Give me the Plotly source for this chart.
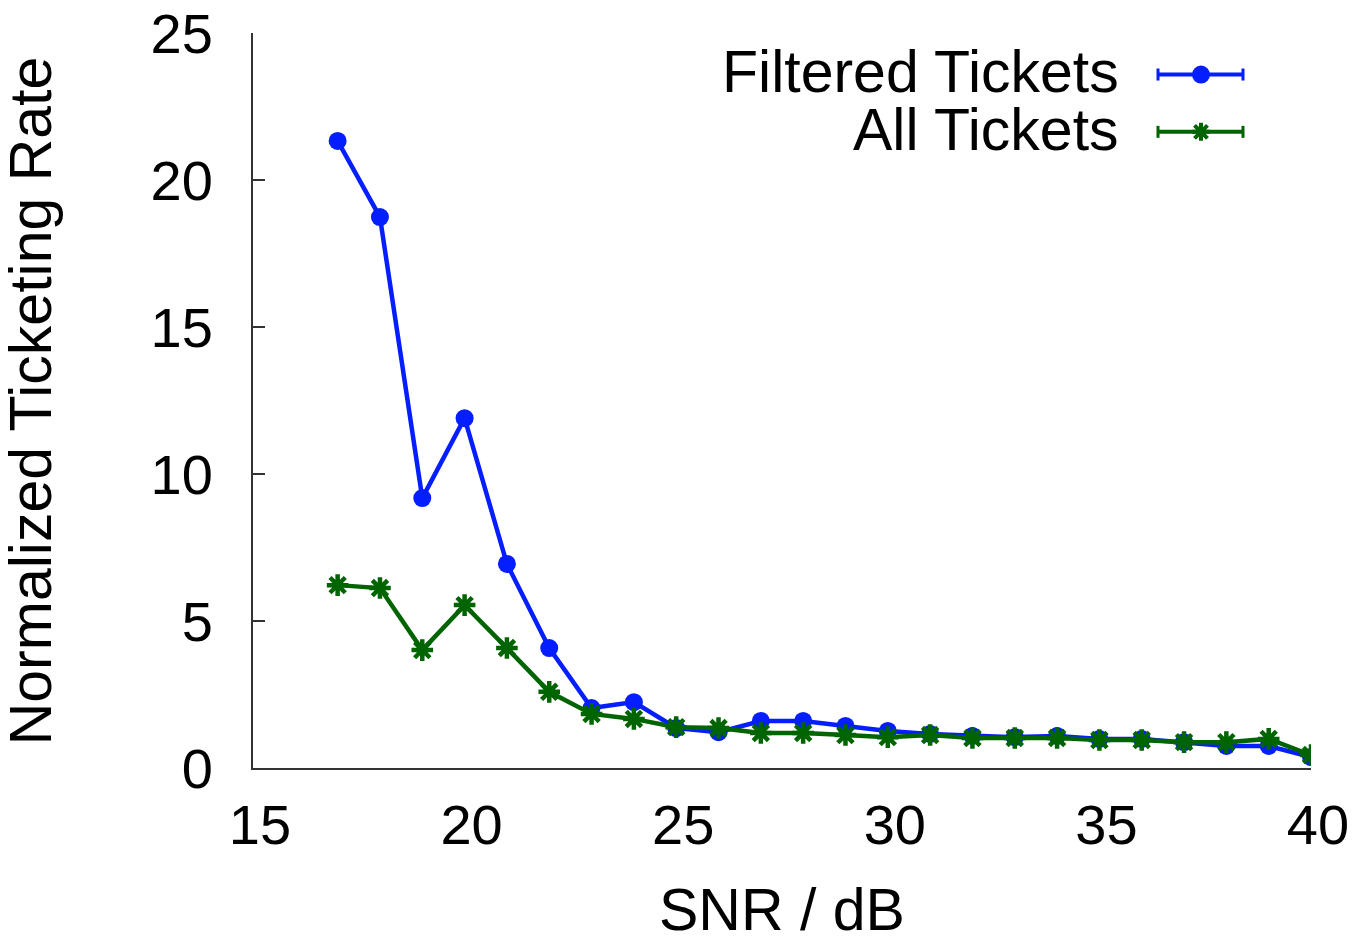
import plotly.graph_objects as go

snr = [17, 18, 19, 20, 21, 22, 23, 24, 25, 26, 27, 28, 29, 30, 31, 32, 33, 34, 35, 36, 37, 38, 39, 40]
filtered = [21.33, 18.74, 9.18, 11.9, 6.94, 4.08, 2.04, 2.24, 1.36, 1.22, 1.6, 1.6, 1.43, 1.26,
            1.16, 1.09, 1.05, 1.09, 0.99, 0.99, 0.88, 0.75, 0.75, 0.37]
all_tickets = [6.22, 6.12, 4.01, 5.54, 4.08, 2.59, 1.84, 1.67, 1.39, 1.36, 1.19, 1.19, 1.12, 1.05,
               1.12, 1.02, 1.02, 1.02, 0.95, 0.95, 0.88, 0.88, 0.99, 0.44]
series_names = ["Filtered Tickets", "All Tickets"]
x_title = "SNR / dB"
y_title = "Normalized Ticketing Rate"

BLUE = "rgb(5,30,255)"
GREEN = "rgb(0,100,0)"
FONT = "Liberation Sans, Arial, sans-serif"
FS = 56
FT = 59

fig = go.Figure()
fig.add_trace(go.Scatter(x=snr, y=filtered, mode="lines+markers", name=series_names[0],
                         line=dict(color=BLUE, width=4.5),
                         marker=dict(symbol="circle", size=18, color=BLUE), showlegend=False))
fig.add_trace(go.Scatter(x=snr, y=all_tickets, mode="lines+markers", name=series_names[1],
                         line=dict(color=GREEN, width=4.5),
                         marker=dict(symbol="asterisk-open", size=18, color=GREEN,
                                     line=dict(color=GREEN, width=4.5)), showlegend=False))

fig.update_layout(
    width=1344, height=925,
    margin=dict(l=245, r=41, t=25, b=165, autoexpand=False),
    paper_bgcolor="white", plot_bgcolor="white",
    font=dict(family=FONT, size=FS, color="black"),
    showlegend=False,
)
fig.update_xaxes(range=[15, 40], tickvals=[15, 20, 25, 30, 35, 40], ticks="",
                 showgrid=False, zeroline=False, showline=True, linecolor="#333", linewidth=2,
                 ticklabelstandoff=7, ticklabelshift=7, ticklabeloverflow="allow",
                 tickfont=dict(size=FS))
fig.update_yaxes(range=[0, 25], tickvals=[0, 5, 10, 15, 20, 25], ticks="inside", ticklen=12,
                 tickwidth=2, tickcolor="#333",
                 showgrid=False, zeroline=False, showline=True, linecolor="#333", linewidth=2,
                 ticklabelstandoff=27, ticklabeloverflow="allow", tickfont=dict(size=FS))

# axis titles
fig.add_annotation(text=x_title, xref="paper", yref="paper", x=0.5, y=-0.193,
                   xanchor="center", yanchor="middle", showarrow=False, font=dict(size=FT))
fig.add_annotation(text=y_title, xref="paper", yref="paper", x=-0.210, y=0.5, textangle=-90,
                   xanchor="center", yanchor="middle", showarrow=False, font=dict(size=FT))

# legend (drawn as decoration)
leg = [(series_names[0], BLUE, 0.947, 0.9435, "circle"), (series_names[1], GREEN, 0.868, 0.8655, "star")]
x_l, x_r, x_m = (1158 - 253) / 1058, (1243 - 253) / 1058, (1201 - 253) / 1058
for name, col, ty, ly, kind in leg:
    fig.add_annotation(text=name, xref="paper", yref="paper", x=0.8204, y=ty,
                       xanchor="right", yanchor="middle", showarrow=False, font=dict(size=FT))
    fig.add_shape(type="line", xref="paper", yref="paper", x0=x_l, x1=x_r, y0=ly, y1=ly,
                  line=dict(color=col, width=4))
    for xc in (x_l, x_r):
        fig.add_shape(type="line", xref="paper", yref="paper", xsizemode="pixel", ysizemode="pixel",
                      xanchor=xc, yanchor=ly, x0=0, x1=0, y0=-6, y1=6, line=dict(color=col, width=3))
    if kind == "circle":
        fig.add_shape(type="circle", xref="paper", yref="paper", xsizemode="pixel", ysizemode="pixel",
                      xanchor=x_m, yanchor=ly, x0=-9, x1=9, y0=-9, y1=9,
                      fillcolor=col, line=dict(color=col, width=0))
    else:
        fig.add_shape(type="path", xref="paper", yref="paper", xsizemode="pixel", ysizemode="pixel",
                      xanchor=x_m, yanchor=ly,
                      path="M-9,0 L9,0 M0,-9 L0,9 M-6.5,-6.5 L6.5,6.5 M-6.5,6.5 L6.5,-6.5",
                      line=dict(color=col, width=4))

fig.write_html("out.html")
